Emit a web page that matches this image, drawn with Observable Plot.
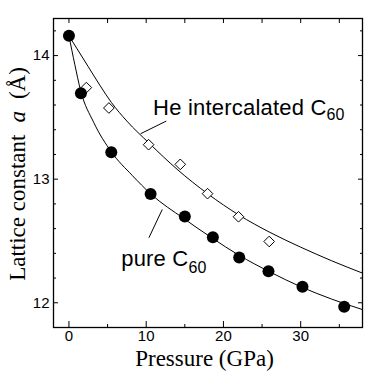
<!DOCTYPE html>
<html><head><meta charset="utf-8">
<script src="https://cdn.jsdelivr.net/npm/d3@7"></script>
<script src="https://cdn.jsdelivr.net/npm/@observablehq/plot@0.6"></script>
<style>body{margin:0;background:#fff} svg{display:block}</style>
</head><body><div id="chart"></div>
<script>
// Measured points: pure C60 (filled circles)
const pressurePure = [0, 1.55, 5.48, 10.57, 15.0, 18.63, 22.04, 25.83, 30.23, 35.63];
const latticePure  = [14.16, 13.695, 13.217, 12.88, 12.699, 12.531, 12.367, 12.256, 12.13, 11.968];
// Measured points: He intercalated C60 (open diamonds)
const pressureHe = [2.25, 5.17, 10.31, 14.41, 17.94, 21.95, 25.92];
const latticeHe  = [13.741, 13.576, 13.279, 13.12, 12.883, 12.696, 12.496];
// Fit curves
const fitPurePressure = [0, 0.75, 1.5, 3.2, 5.5, 8.2, 10.6, 14.9, 18.5, 22, 26, 30, 34, 38];
const fitPureLattice  = [14.16, 13.93, 13.72, 13.46, 13.22, 13.03, 12.88, 12.68, 12.525, 12.385, 12.25, 12.13, 12.03, 11.945];
const fitHePressure = [0, 1, 2.5, 4, 5.5, 7.5, 10.4, 14, 18, 22, 26, 30, 34, 38];
const fitHeLattice  = [14.16, 14.06, 13.91, 13.76, 13.62, 13.47, 13.29, 13.08, 12.88, 12.71, 12.57, 12.45, 12.34, 12.24];
// Ticks
const xMajorTicks = [0, 10, 20, 30];
const xMinorTicks = [5, 15, 25, 35];
const yMajorTicks = [12, 13, 14];
const yMinorTicks = [12.2, 12.4, 12.6, 12.8, 13.2, 13.4, 13.6, 13.8, 14.2];
// Annotations
const labelTexts = ["He intercalated C", "pure C"];
const labelSubs = ["60", "60"];
const labelP = [10.96, 6.83];
const labelA = [13.519, 12.294];
const leaderP1 = [9.28, 10.35];
const leaderA1 = [13.368, 12.526];
const leaderP2 = [12.6, 12.08];
const leaderA2 = [13.47, 12.755];

const pure = pressurePure.map((p, i) => ({p, a: latticePure[i]}));
const he = pressureHe.map((p, i) => ({p, a: latticeHe[i]}));
const fitPure = fitPurePressure.map((p, i) => ({p, a: fitPureLattice[i]}));
const fitHe = fitHePressure.map((p, i) => ({p, a: fitHeLattice[i]}));
const leaders = leaderP1.map((p, i) => ({x1: p, y1: leaderA1[i], x2: leaderP2[i], y2: leaderA2[i]}));

const plot = Plot.plot({
  width: 373, height: 374,
  marginLeft: 53, marginRight: 11, marginTop: 18, marginBottom: 47,
  style: {fontFamily: "Liberation Sans, Arial, sans-serif", fontSize: "15px", color: "black", background: "white"},
  x: {domain: [-2, 38]},
  y: {domain: [11.8, 14.3]},
  marks: [
    Plot.axisX(xMajorTicks, {anchor: "bottom", tickSize: 0, tickPadding: 3, label: null, tickFormat: d3.format("d")}),
    Plot.axisX(xMajorTicks, {anchor: "bottom", tickSize: -6, text: null, label: null}),
    Plot.axisX(xMinorTicks, {anchor: "bottom", tickSize: -3, text: null, label: null}),
    Plot.axisX(xMajorTicks.concat(xMinorTicks), {anchor: "top", tickSize: -4, text: null, label: null}),
    Plot.axisY(yMajorTicks, {anchor: "left", tickSize: 0, tickPadding: 4, label: null, tickFormat: d3.format("d")}),
    Plot.axisY(yMajorTicks, {anchor: "left", tickSize: -5, text: null, label: null}),
    Plot.axisY(yMinorTicks, {anchor: "left", tickSize: -3, text: null, label: null}),
    Plot.axisY(yMajorTicks, {anchor: "right", tickSize: -5, text: null, label: null}),
    Plot.axisY(yMinorTicks, {anchor: "right", tickSize: -3, text: null, label: null}),
    Plot.line(fitHe, {x: "p", y: "a", stroke: "black", strokeWidth: 1, curve: "monotone-x", clip: true}),
    Plot.line(fitPure, {x: "p", y: "a", stroke: "black", strokeWidth: 1, curve: "monotone-x", clip: true}),
    Plot.link(leaders, {x1: "x1", y1: "y1", x2: "x2", y2: "y2", stroke: "black", strokeWidth: 1}),
    Plot.dot(he, {x: "p", y: "a", symbol: "diamond2", r: 4.8, fill: "white", stroke: "black", strokeWidth: 1}),
    Plot.dot(pure, {x: "p", y: "a", r: 6, fill: "black", stroke: "none"}),
    Plot.frame({stroke: "black", strokeWidth: 1.3})
  ]
});

const svg = d3.select(plot);
const sx = plot.scale("x"), sy = plot.scale("y");
labelTexts.forEach((t, i) => {
  const txt = svg.append("text")
    .attr("x", sx.apply(labelP[i])).attr("y", sy.apply(labelA[i]))
    .attr("text-anchor", "start")
    .attr("font-family", "Liberation Sans, Arial, sans-serif")
    .attr("font-size", 22).attr("letter-spacing", 0.2).attr("fill", "black")
    .text(t);
  txt.append("tspan").attr("font-size", 16).attr("dy", i === 0 ? 5 : 7).text(labelSubs[i]);
});
svg.append("text")
  .attr("x", 204.5).attr("y", 366)
  .attr("text-anchor", "middle")
  .attr("font-family", "Liberation Serif, Times New Roman, serif")
  .attr("font-size", 23).attr("fill", "black")
  .text("Pressure (GPa)");
const yl = svg.append("text")
  .attr("transform", "translate(25,174) rotate(-90)")
  .attr("text-anchor", "middle")
  .attr("font-family", "Liberation Serif, Times New Roman, serif")
  .attr("font-size", 23).attr("fill", "black");
yl.append("tspan").text("Lattice constant");
yl.append("tspan").attr("dx", 12).attr("font-style", "italic").text("a");
yl.append("tspan").attr("dx", 12).text("(Å)");

document.getElementById("chart").appendChild(plot);
</script>
</body></html>
